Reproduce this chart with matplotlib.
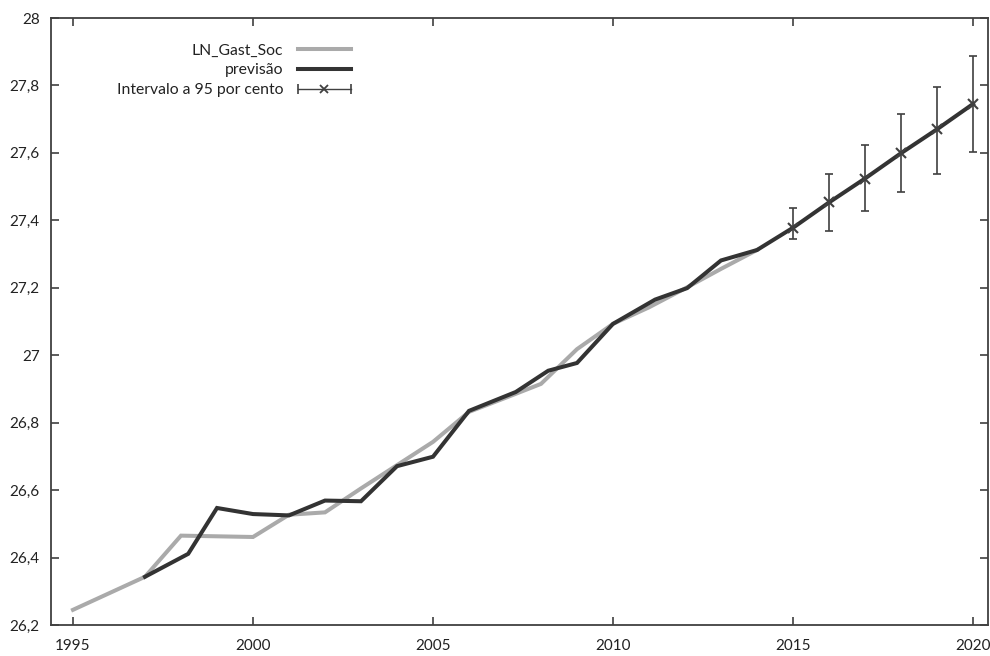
import matplotlib
matplotlib.use("Agg")
import matplotlib.pyplot as plt
from matplotlib.lines import Line2D
from matplotlib.legend_handler import HandlerLine2D, HandlerTuple
from matplotlib.ticker import FuncFormatter

# observed series (LN_Gast_Soc)
obs_years = list(range(1995, 2015))
obs_vals = [26.245, 26.294, 26.343, 26.465, 26.463, 26.461, 26.527, 26.534, 26.605, 26.674,
            26.743, 26.832, 26.873, 26.915, 27.018, 27.093, 27.142, 27.198, 27.256, 27.312]

# forecast / fitted series (previsão), x
prev_years = [1997, 1998.2, 1999, 2000, 2001, 2002, 2003, 2004, 2005, 2006, 2007.3, 2008.2,
              2009, 2010, 2011.17, 2012.06, 2013, 2014, 2015, 2016, 2017, 2018, 2019, 2020]
prev_vals = [26.343, 26.411, 26.547, 26.529, 26.525, 26.569, 26.567, 26.671, 26.699, 26.835,
             26.891, 26.954, 26.977, 27.093, 27.165, 27.199, 27.281, 27.312, 27.378, 27.453,
             27.524, 27.599, 27.670, 27.745]

# 95% interval
ci_years = [2015, 2016, 2017, 2018, 2019, 2020]
ci_mid = [27.378, 27.453, 27.524, 27.599, 27.670, 27.745]
ci_low = [27.344, 27.368, 27.427, 27.485, 27.537, 27.602]
ci_high = [27.438, 27.537, 27.624, 27.716, 27.795, 27.888]

plt.rcParams['font.family'] = ['Lato', 'DejaVu Sans']
plt.rcParams['font.size'] = 11

gray = '#aaaaaa'
dark = '#333333'
axc = '#404040'

fig = plt.figure(figsize=(9.9, 6.56), dpi=100)
ax = fig.add_axes([51 / 990, 31 / 656, 937 / 990, 607 / 656])

ax.plot(obs_years, obs_vals, color=gray, lw=2.9, solid_joinstyle='miter', zorder=2)
ax.plot(prev_years, prev_vals, color=dark, lw=2.9, solid_joinstyle='miter', zorder=3)

yerr = [[m - l for m, l in zip(ci_mid, ci_low)], [h - m for m, h in zip(ci_mid, ci_high)]]
ax.errorbar(ci_years, ci_mid, yerr=yerr, fmt='none', ecolor=axc, elinewidth=1.2,
            capsize=3.2, capthick=1.2, zorder=4)
ax.plot(ci_years, ci_mid, ls='none', marker='x', ms=7, mew=1.5, color=axc, zorder=5)

ax.set_xlim(1994.389, 2020.417)
ax.set_ylim(26.2, 28.0)
ax.set_xticks([1995, 2000, 2005, 2010, 2015, 2020])
ax.set_yticks([26.2, 26.4, 26.6, 26.8, 27.0, 27.2, 27.4, 27.6, 27.8, 28.0])
ax.yaxis.set_major_formatter(FuncFormatter(lambda v, p: ('%g' % round(v, 1)).replace('.', ',')))

ax.tick_params(direction='in', length=6, width=1.2, color=axc, labelcolor='#222222',
               top=True, right=True, labelsize=11)
ax.tick_params(axis='x', pad=10)
ax.tick_params(axis='y', pad=8)
for s in ax.spines.values():
    s.set_color(axc)
    s.set_linewidth(1.3)

# legend: text on the left, sample on the right
h_obs = Line2D([], [], color=gray, lw=2.9)
h_prev = Line2D([], [], color=dark, lw=2.9)
h_caps = Line2D([], [], ls='none', marker='|', ms=7, mew=1.2, color=axc)
h_mid = Line2D([], [], color=axc, lw=1.0, marker='x', ms=6, mew=1.3)
leg = ax.legend([h_obs, h_prev, (h_mid, h_caps)],
                ['LN_Gast_Soc', 'previsão', 'Intervalo a 95 por cento'],
                handler_map={h_caps: HandlerLine2D(numpoints=2, marker_pad=0),
                             tuple: HandlerTuple(ndivide=1)},
                loc='upper right', bbox_to_anchor=(0.3285, 0.971), frameon=False,
                markerfirst=False, handlelength=3.4, handletextpad=0.9, labelspacing=0.38,
                borderpad=0, fontsize=11.3)
for t in leg.get_texts():
    t.set_color('#222222')

fig.savefig('out.png', dpi=100)
